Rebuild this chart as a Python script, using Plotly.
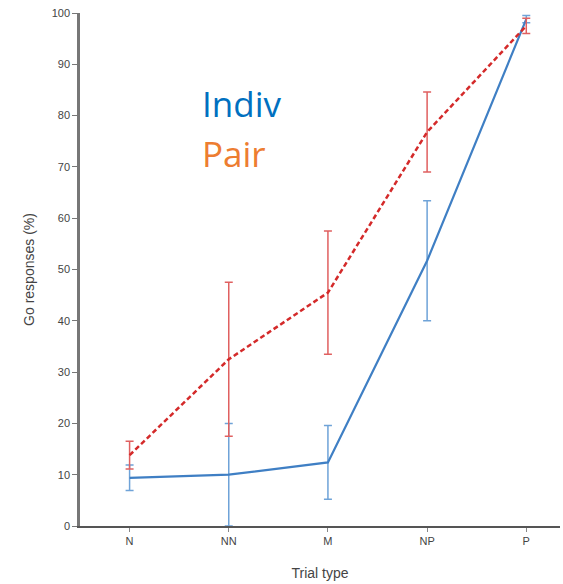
import plotly.graph_objects as go

categories = ["N", "NN", "M", "NP", "P"]
indiv_values = [9.4, 10.0, 12.4, 51.7, 98.8]
indiv_err = [2.5, 10.0, 7.2, 11.7, 0.7]
pair_values = [13.8, 32.5, 45.5, 76.8, 97.5]
pair_err = [2.7, 15.0, 12.0, 7.8, 1.5]
y_ticks = [0, 10, 20, 30, 40, 50, 60, 70, 80, 90, 100]

xi = list(range(len(categories)))

fig = go.Figure()
fig.add_trace(go.Scatter(
    x=xi, y=indiv_values, mode="lines", name="Indiv",
    line=dict(color="#3f7fc4", width=2.2),
    error_y=dict(type="data", array=indiv_err, visible=True,
                 color="#6fa3d8", thickness=1.5, width=4),
))
fig.add_trace(go.Scatter(
    x=xi, y=pair_values, mode="lines", name="Pair",
    line=dict(color="#d42a2a", width=2.5, dash="5px,3px"),
    error_y=dict(type="data", array=pair_err, visible=True,
                 color="#e06060", thickness=1.5, width=4),
))

fig.add_annotation(xref="paper", yref="y", x=0.25, y=82.3, text="Indiv", showarrow=False,
                   xanchor="left", yanchor="middle",
                   font=dict(family="Open Sans, Liberation Sans", size=35, color="#0070c0"))
fig.add_annotation(xref="paper", yref="y", x=0.25, y=72.6, text="Pair", showarrow=False,
                   xanchor="left", yanchor="middle",
                   font=dict(family="Open Sans, Liberation Sans", size=35, color="#ed7d31"))

fig.update_layout(
    width=563, height=584,
    margin=dict(l=80, r=3, t=13, b=58),
    plot_bgcolor="white", paper_bgcolor="white",
    showlegend=False,
    font=dict(family="Liberation Sans, Arial", color="#444"),
    xaxis=dict(
        range=[-0.5, 4.34], tickmode="array", tickvals=xi, ticktext=categories,
        showline=True, linecolor="#555", linewidth=1.5, ticks="outside",
        ticklen=4, tickcolor="#888", showgrid=False, zeroline=False,
        tickfont=dict(size=11, color="#444"),
        title=dict(text="Trial type", font=dict(size=14, color="#444"), standoff=22),
    ),
    yaxis=dict(
        range=[0, 100], tickmode="array", tickvals=y_ticks,
        showline=True, linecolor="#777", linewidth=2.5, ticks="outside",
        ticklen=5, tickcolor="#777", showgrid=False, zeroline=False,
        tickfont=dict(size=11, color="#444"),
        title=dict(text="Go responses (%)", font=dict(size=14, color="#444"), standoff=14),
    ),
)

fig.write_html("out.html", config={"displayModeBar": False},
               post_script="document.body.style.margin='0';document.body.style.overflow='hidden';")
